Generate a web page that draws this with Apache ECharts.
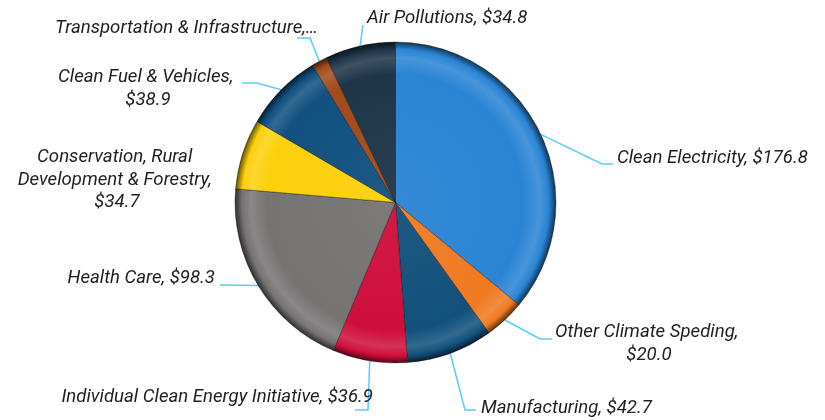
<!DOCTYPE html>
<html>
<head>
<meta charset="utf-8">
<script src="https://cdn.jsdelivr.net/npm/echarts@6/dist/echarts.min.js"></script>
<style>
  html, body { margin: 0; padding: 0; background: #fff; }
  #chart { width: 825px; height: 420px; }
</style>
</head>
<body>
<div id="chart"></div>
<script>
// spending by category ($ bn), clockwise from 12 o'clock
var categories = ['Clean Electricity', 'Other Climate Speding', 'Manufacturing',
  'Individual Clean Energy Initiative', 'Health Care',
  'Conservation, Rural Development & Forestry', 'Clean Fuel & Vehicles',
  'Transportation & Infrastructure', 'Air Pollutions'];
var values = [176.8, 20.0, 42.7, 36.9, 98.3, 34.7, 38.9, 7.6, 34.8];
var colors = ['#2a84d4', '#f07a22', '#12517c', '#cf0f3b', '#767373',
  '#fcd00c', '#11507f', '#a24b1c', '#1f3549'];

// label placement + leader line bends (layout only)
var labelSpots = [
  { x: 617, y: 158, align: 'left', bend: [[602, 164], [613, 164]] },
  { x: 649, y: 344, align: 'center', width: 200, bend: [[540, 339], [552, 339]] },
  { x: 481, y: 408, align: 'left', bend: [[465, 410], [476, 410]] },
  { x: 373, y: 397, align: 'right', bend: [[368, 410], [355, 410]] },
  { x: 215, y: 278, align: 'right', bend: [[220, 285]] },
  { x: 117, y: 180, align: 'center', width: 215, noLine: true },
  { x: 148, y: 89, align: 'center', width: 192, bend: [[257, 83], [242, 83]] },
  { x: 318, y: 28, align: 'right', cut: true, bend: [[310, 38], [297, 38]] },
  { x: 367, y: 18, align: 'left', bend: [[363, 25]] }
];

var cx = 395.5, cy = 202.5, R = 160.5;

function shade(hex, amt) {
  var n = parseInt(hex.slice(1), 16);
  var c = [n >> 16, (n >> 8) & 255, n & 255];
  var t = amt < 0 ? 0 : 255, p = Math.abs(amt);
  c = c.map(function(v){ return Math.round(v + (t - v) * p); });
  return 'rgb(' + c.join(',') + ')';
}

function bevel(c) {
  return new echarts.graphic.RadialGradient(cx, cy, R, [
    { offset: 0, color: shade(c, 0.05) },
    { offset: 0.8, color: c },
    { offset: 0.9, color: shade(c, 0.14) },
    { offset: 0.955, color: c },
    { offset: 1, color: shade(c, -0.6) }
  ], true);
}

var pieData = categories.map(function(name, i){
  var s = labelSpots[i];
  var item = {
    name: name,
    value: values[i],
    itemStyle: { color: bevel(colors[i]) }
  };
  if (s.width) item.label = { width: s.width, overflow: 'break' };
  if (s.noLine) item.labelLine = { show: false };
  return item;
});

var chart = echarts.init(document.getElementById('chart'));
chart.setOption({
  animation: false,
  series: [{
    type: 'pie',
    center: [cx, cy],
    radius: R,
    startAngle: 90,
    clockwise: true,
    avoidLabelOverlap: false,
    data: pieData,
    itemStyle: {
      borderColor: 'rgba(0,0,0,0.35)',
      borderWidth: 1
    },
    label: {
      show: true,
      position: 'outside',
      fontFamily: 'Roboto',
      fontStyle: 'italic',
      fontSize: 18.6,
      lineHeight: 22.5,
      color: '#1e1e1e',
      formatter: function(p){
        if (labelSpots[p.dataIndex].cut) return p.name + ',…';
        return p.name + ', $' + p.value.toFixed(1);
      }
    },
    labelLine: {
      show: true,
      length: 10,
      length2: 10,
      lineStyle: { color: '#55cdf8', width: 1.5 }
    },
    labelLayout: function(p){
      var s = labelSpots[p.dataIndex];
      var out = { x: s.x, y: s.y, align: s.align, verticalAlign: 'middle' };
      if (s.bend && p.labelLinePoints) {
        out.labelLinePoints = [p.labelLinePoints[0]].concat(s.bend);
      }
      return out;
    },
    emphasis: { disabled: true }
  }]
});
</script>
</body>
</html>
